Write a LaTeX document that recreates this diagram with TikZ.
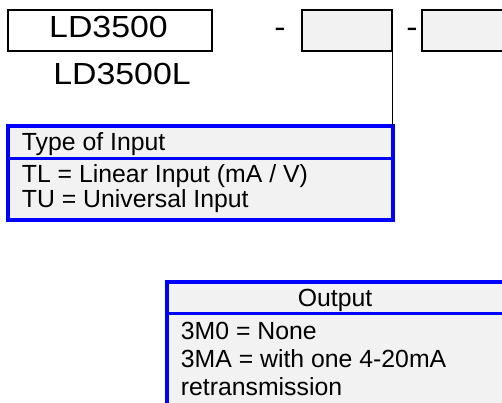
\documentclass[tikz,border=0pt]{standalone}
\usepackage{fontspec}
\setmainfont{Liberation Sans}
\newfontfamily\bigfont[FakeStretch=1.11]{Liberation Sans}
\definecolor{boxgray}{HTML}{F2F2F2}
\definecolor{pureblue}{HTML}{0000FF}
\tikzset{
  codebox/.style={draw=black, line width=2pt, inner sep=0pt, outer sep=0pt},
  infobox/.style={draw=pureblue, line width=3.6pt, fill=boxgray, inner sep=0pt, outer sep=0pt},
  bigtxt/.style={font=\bigfont\fontsize{30.5}{36}\selectfont, inner sep=0pt, anchor=base},
  smalltxt/.style={font=\fontsize{24.8}{28}\selectfont, inner sep=0pt, anchor=base west},
  headtxt/.style={font=\fontsize{24.8}{28}\selectfont, inner sep=0pt, anchor=base},
  sepline/.style={draw=pureblue, line width=3.6pt}
}
\begin{document}
\begin{tikzpicture}[x=1pt,y=-1pt]
\useasboundingbox (0,0) rectangle (502,402);
\clip (0,0) rectangle (502,402);
% code boxes
\node[codebox, fill=white, minimum width=204pt, minimum height=41.5pt] (box1) at (110,30.25) {};
\node[bigtxt] (t1) at (108.5,37.3) {LD3500};
\node[bigtxt] (t1l) at (122,84.3) {LD3500L};
\node[bigtxt] (dash1) at (280,37.3) {-};
\node[codebox, fill=boxgray, minimum width=90pt, minimum height=41.5pt] (box2) at (347,30.25) {};
\node[bigtxt] (dash2) at (412,37.3) {-};
\node[codebox, fill=boxgray, minimum width=100pt, minimum height=41.5pt] (box3) at (472,30.25) {};
% type of input box
\node[infobox, minimum width=385pt, minimum height=94pt] (typebox) at (200.5,173) {};
\draw[sepline] (typebox.west |- 0,158.5) -- (typebox.east |- 0,158.5);
\node[smalltxt] (typehead) at (21.7,150.7) {Type of Input};
\node[smalltxt] (tl) at (21.7,182.3) {TL = Linear Input (mA / V)};
\node[smalltxt] (tu) at (21.7,207.3) {TU = Universal Input};
% connector
\draw[line width=1pt] (box2.south east) -- (box2.south east |- typebox.north);
% output box
\node[infobox, minimum width=353pt, minimum height=138pt] (outbox) at (343.5,351) {};
\draw[sepline] (outbox.west |- 0,313.5) -- (outbox.east |- 0,313.5);
\node[headtxt] (outhead) at (335,306.7) {Output};
\node[smalltxt] (o1) at (180.7,339.3) {3M0 = None};
\node[smalltxt] (o2) at (180.7,367.3) {3MA = with one 4-20mA};
\node[smalltxt] (o3) at (180.7,395) {retransmission};
\end{tikzpicture}
\end{document}
